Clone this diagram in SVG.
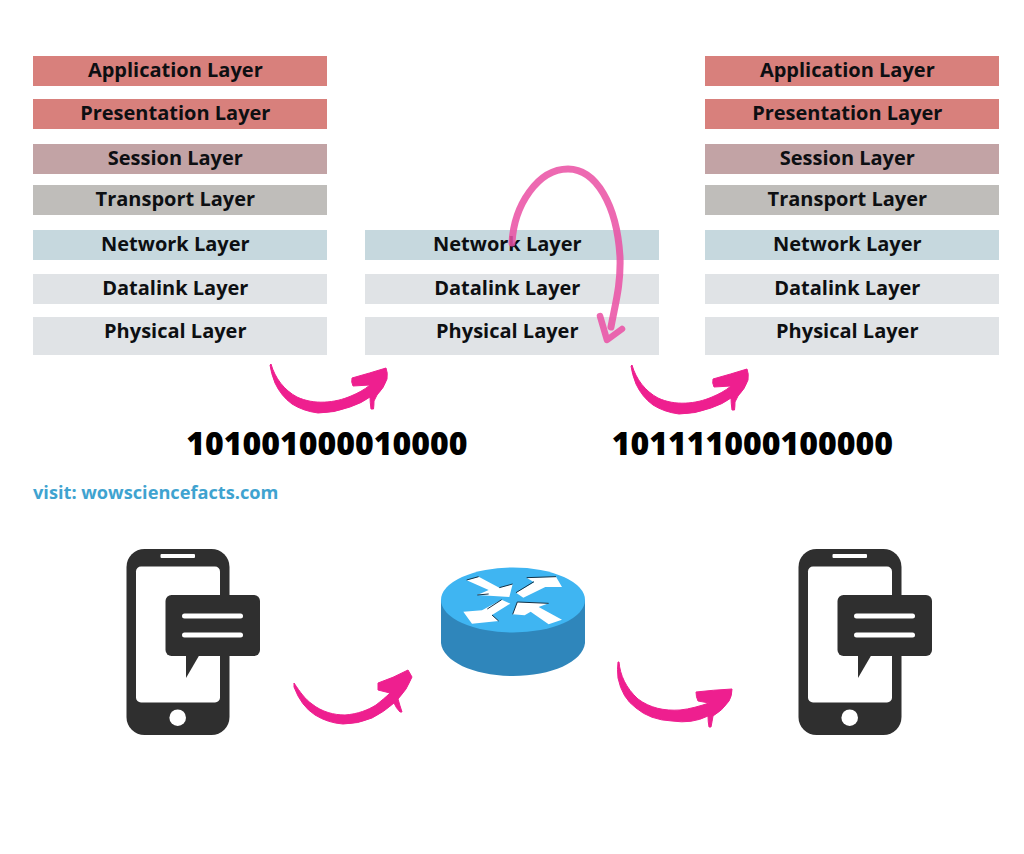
<svg xmlns="http://www.w3.org/2000/svg" xmlns:xlink="http://www.w3.org/1999/xlink" width="1024" height="854" viewBox="0 0 1024 854">
<style>
text{font-family:"Open Sans","Liberation Sans",sans-serif;font-weight:700;fill:#0d0f12}
.l{font-size:20px;text-anchor:middle}
.b{font-size:32px;font-weight:800;fill:#000;text-anchor:middle}
.v{font-size:18.200px;fill:#3fa3d0}
.a{fill:#d8807c}.s{fill:#c2a3a5}.t{fill:#bfbdba}.n{fill:#c6d8de}.d{fill:#e0e3e6}
.pk{fill:#ee1f8f;stroke:#ee1f8f;stroke-width:1;stroke-linejoin:round}
.ph{fill:#2f2f2f}
.w{fill:#fff}
.sh{fill:none;stroke:#123044;stroke-width:3}
.cv{fill:none;stroke:#ea4fa3;stroke-opacity:.85;stroke-linecap:round;stroke-linejoin:round}
</style>
<defs>
<path id="arrowTop" d="M271 364C275 378 284 390 297 397C314 405 335 403 351 396C358 393 364 390 370 385L353 386Q351 382 352 378Q370 373 386 368Q388 373 387 379Q384 388 377 395L374 401Q374 405 373.500 409L371 409Q370 402 370 397Q362 403 350 407Q334 413 318 413Q303 411 292 404Q281 396 275 383Q271 373 270 365Z"/>
<g id="phone">
<rect class="ph" x="126.500" y="549" width="103" height="186" rx="18"/>
<rect class="w" x="136" y="566.500" width="84" height="136" rx="5"/>
<rect class="w" x="160.500" y="554" width="34.500" height="4" rx="1"/>
<circle class="w" cx="177.700" cy="717.700" r="8.300"/>
<rect class="ph" x="165.500" y="595" width="94.500" height="61" rx="6"/>
<path class="ph" d="M186 654L200 654L186 678Z"/>
<rect class="w" x="182" y="613.500" width="61" height="5" rx="2.500"/>
<rect class="w" x="182" y="632.500" width="61" height="5" rx="2.500"/>
</g>
</defs>

<g id="stack-left">
<g id="l-application"><rect class="a" x="33" y="56" width="294" height="30"/><text class="l" x="175.300" y="76.500">Application Layer</text></g>
<g id="l-presentation"><rect class="a" x="33" y="99" width="294" height="30"/><text class="l" x="175.300" y="119.500">Presentation Layer</text></g>
<g id="l-session"><rect class="s" x="33" y="144" width="294" height="30"/><text class="l" x="175.300" y="164.500">Session Layer</text></g>
<g id="l-transport"><rect class="t" x="33" y="185" width="294" height="30"/><text class="l" x="175.300" y="206">Transport Layer</text></g>
<g id="l-network"><rect class="n" x="33" y="230" width="294" height="30"/><text class="l" x="175.300" y="250.500">Network Layer</text></g>
<g id="l-datalink"><rect class="d" x="33" y="274" width="294" height="30"/><text class="l" x="175.300" y="295">Datalink Layer</text></g>
<g id="l-physical"><rect class="d" x="33" y="317" width="294" height="38"/><text class="l" x="175.300" y="337.500">Physical Layer</text></g>
</g>

<g id="stack-middle">
<g id="m-network"><rect class="n" x="365" y="230" width="294" height="30"/><text class="l" x="507.300" y="250.500">Network Layer</text></g>
<g id="m-datalink"><rect class="d" x="365" y="274" width="294" height="30"/><text class="l" x="507.300" y="295">Datalink Layer</text></g>
<g id="m-physical"><rect class="d" x="365" y="317" width="294" height="38"/><text class="l" x="507.300" y="337.500">Physical Layer</text></g>
</g>

<g id="stack-right">
<g id="r-application"><rect class="a" x="705" y="56" width="294" height="30"/><text class="l" x="847.300" y="76.500">Application Layer</text></g>
<g id="r-presentation"><rect class="a" x="705" y="99" width="294" height="30"/><text class="l" x="847.300" y="119.500">Presentation Layer</text></g>
<g id="r-session"><rect class="s" x="705" y="144" width="294" height="30"/><text class="l" x="847.300" y="164.500">Session Layer</text></g>
<g id="r-transport"><rect class="t" x="705" y="185" width="294" height="30"/><text class="l" x="847.300" y="206">Transport Layer</text></g>
<g id="r-network"><rect class="n" x="705" y="230" width="294" height="30"/><text class="l" x="847.300" y="250.500">Network Layer</text></g>
<g id="r-datalink"><rect class="d" x="705" y="274" width="294" height="30"/><text class="l" x="847.300" y="295">Datalink Layer</text></g>
<g id="r-physical"><rect class="d" x="705" y="317" width="294" height="38"/><text class="l" x="847.300" y="337.500">Physical Layer</text></g>
</g>

<g id="bits-1"><text class="b" x="326.800" y="455">101001000010000</text></g>
<g id="bits-2"><text class="b" x="752.300" y="455">101111000100000</text></g>
<g id="credit"><text class="v" x="33" y="499">visit: wowsciencefacts.com</text></g>

<g id="phone-left"><use xlink:href="#phone" href="#phone"/></g>
<g id="phone-right"><use xlink:href="#phone" href="#phone" x="672"/></g>

<g id="router">
<path fill="#2f86bb" d="M441 600L441 643C443 662 475 676 513 676C551 676 583 662 585 643L585 600Z"/>
<ellipse cx="513" cy="600" rx="72" ry="32.500" fill="#3fb5f2"/>
<g transform="translate(430 555) scale(.3333)">
<path class="w" d="M110 76L146 65L208 98L248 87L238 126L142 120L176 105Z"/>
<path class="w" d="M258 113L312 82L290 68L378 65L396 96L346 96L280 128Z"/>
<path class="w" d="M215 134L241 146L186 180L206 198L126 206L100 170L156 166Z"/>
<path class="w" d="M248 178L262 141L356 145L326 156L396 194L356 208L302 170L284 181Z"/>
<path class="sh" d="M110 75L146 65M208 98L248 87M142 120L176 117M258 113L312 80M290 68L378 65M215 134L172 162M186 180L206 198M248 178L262 141L356 145"/>
</g>
</g>

<g id="connectors">
<use class="pk" xlink:href="#arrowTop" href="#arrowTop"/>
<use class="pk" xlink:href="#arrowTop" href="#arrowTop" x="361" y="1"/>
<path class="pk" d="M294 683C300 692 305 699 312 704C322 712 334 715 345 715C358 714 368 710 376 705C381 701 386 697 390 693L378 690L378 683Q393 678 408 670L412 677Q407 690 398 699Q400 706 402 712L400 712Q396 708 394 703Q384 712 372 718Q358 724 343 724Q328 723 315 715Q301 706 294 687Z"/>
<path class="pk" d="M619 662C620 675 626 688 638 699C650 708 664 711 680 710C690 709 700 706 709 703L698 701Q696 697 696 692Q713 690 732 689Q732 696 729 701Q722 711 713 716Q712 722 711 727L709 727Q708 722 708 716Q692 724 672 721Q650 720 636 708Q622 698 618 678Q617 669 618 662Z"/>
<path class="cv" stroke-width="7" d="M512 243C514 205 538 169 568 169C596 169 617 205 620 257C621 285 615 305 611 327"/>
<path class="cv" stroke-width="6.500" d="M600 316L607 340L622 329"/>
</g>
</svg>
